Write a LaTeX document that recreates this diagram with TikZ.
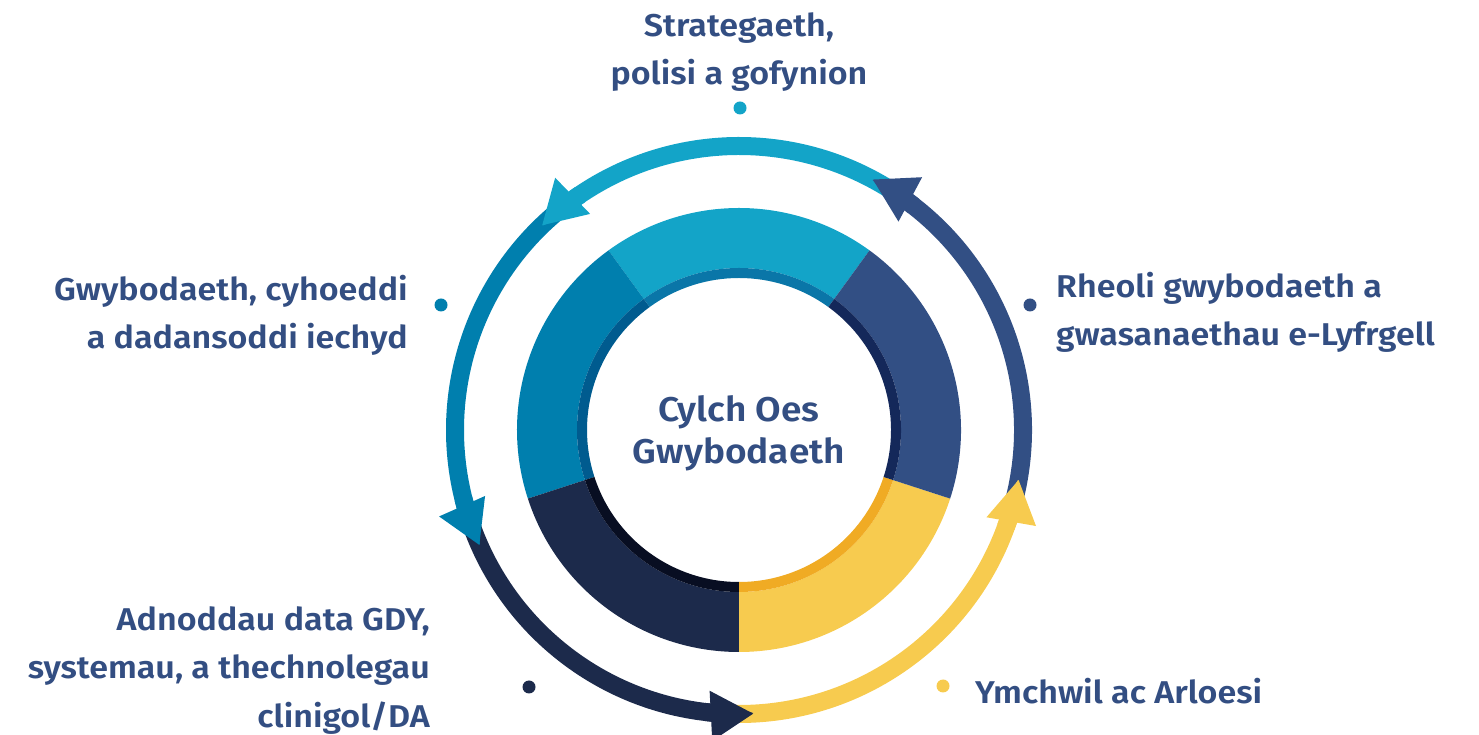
\documentclass[tikz,border=0pt]{standalone}
\usepackage{fontspec}
\IfFontExistsTF{Fira Sans SemiBold}{\setmainfont{Fira Sans SemiBold}[FakeStretch=1.08]}{\setmainfont{Fira Sans}[FakeStretch=1.1]}
\usetikzlibrary{arrows.meta,calc}
\definecolor{txt}{HTML}{334E82}
\definecolor{cTop}{HTML}{13A4C8}
\definecolor{cTopB}{HTML}{0A76A8}
\definecolor{cLeft}{HTML}{007FAE}
\definecolor{cLeftB}{HTML}{005B8F}
\definecolor{cNavy}{HTML}{1C2A4B}
\definecolor{cNavyB}{HTML}{080E22}
\definecolor{cYel}{HTML}{F7CB4F}
\definecolor{cYelB}{HTML}{F0AB24}
\definecolor{cRight}{HTML}{324F84}
\definecolor{cRightB}{HTML}{14285A}
\tikzset{
  lbl/.style={text=txt, inner sep=0pt, font=\fontsize{31.5}{48.5}\selectfont},
  dot/.style={circle, fill=#1, minimum size=13pt, inner sep=0pt},
  ring/.style={line width=18pt, #1}
}
\begin{document}
\begin{tikzpicture}[x=1pt,y=1pt]
\useasboundingbox (0,0) rectangle (1479,735);
\coordinate (C) at (739,305);
% donut segments
\foreach \a/\fc/\bc in {54/cTop/cTopB, 126/cLeft/cLeftB, 198/cNavy/cNavyB, 270/cYel/cYelB, 342/cRight/cRightB}{
  \pgfmathsetmacro\b{\a+72}
  \fill[\fc] ($(C)+(\a:222)$) arc[start angle=\a, end angle=\b, radius=222]
     -- ($(C)+(\b:162)$) arc[start angle=\b, end angle=\a, radius=162] -- cycle;
  \fill[\bc] ($(C)+(\a:162)$) arc[start angle=\a, end angle=\b, radius=162]
     -- ($(C)+(\b:152)$) arc[start angle=\b, end angle=\a, radius=152] -- cycle;
}
% outer cycle arcs (bodies)
\foreach \s/\e/\c in {58/129/cTop, 130/199/cLeft, 200/268/cNavy, 269/345/cYel, 346/417/cRight}{
  \draw[ring=\c] ($(C)+(\s:284)$) arc[start angle=\s, end angle=\e, radius=284];
}
% arrow heads
\foreach \t/\c in {134/cTop, 204/cLeft, 273/cNavy, 350/cYel, 422/cRight}{
  \pgfmathsetmacro\u{\t-10}
  \draw[ring=\c, -{Triangle[length=43pt,width=47pt]}] ($(C)+(\u:284)$) arc[start angle=\u, end angle=\t, radius=284];
}
% centre text
\node[text=txt, inner sep=0pt, font=\fontsize{34.3}{42}\selectfont, align=center] (centre) at (739,302) {Cylch Oes\\Gwybodaeth};
% dots
\node[dot=cTop] (d1) at (740,627) {};
\node[dot=cLeft] (d2) at (441,430) {};
\node[dot=cRight] (d3) at (1030,430) {};
\node[dot=cNavy] (d4) at (529,48) {};
\node[dot=cYel] (d5) at (943,49) {};
% labels
\node[lbl, anchor=north, align=center] (strat) at (739,723) {Strategaeth,\\polisi a gofynion};
\node[lbl, anchor=north east, align=right] (gwy) at (408,460) {Gwybodaeth, cyhoeddi\\a dadansoddi iechyd};
\node[lbl, anchor=north west, align=left] (rheoli) at (1056,463) {Rheoli gwybodaeth a\\gwasanaethau e-Lyfrgell};
\node[lbl, anchor=north east, align=right] (adn) at (430,129) {Adnoddau data GDY,\\systemau, a thechnolegau\\clinigol/DA};
\node[lbl, anchor=north west] (ymch) at (975,57) {Ymchwil ac Arloesi};
\end{tikzpicture}
\end{document}
